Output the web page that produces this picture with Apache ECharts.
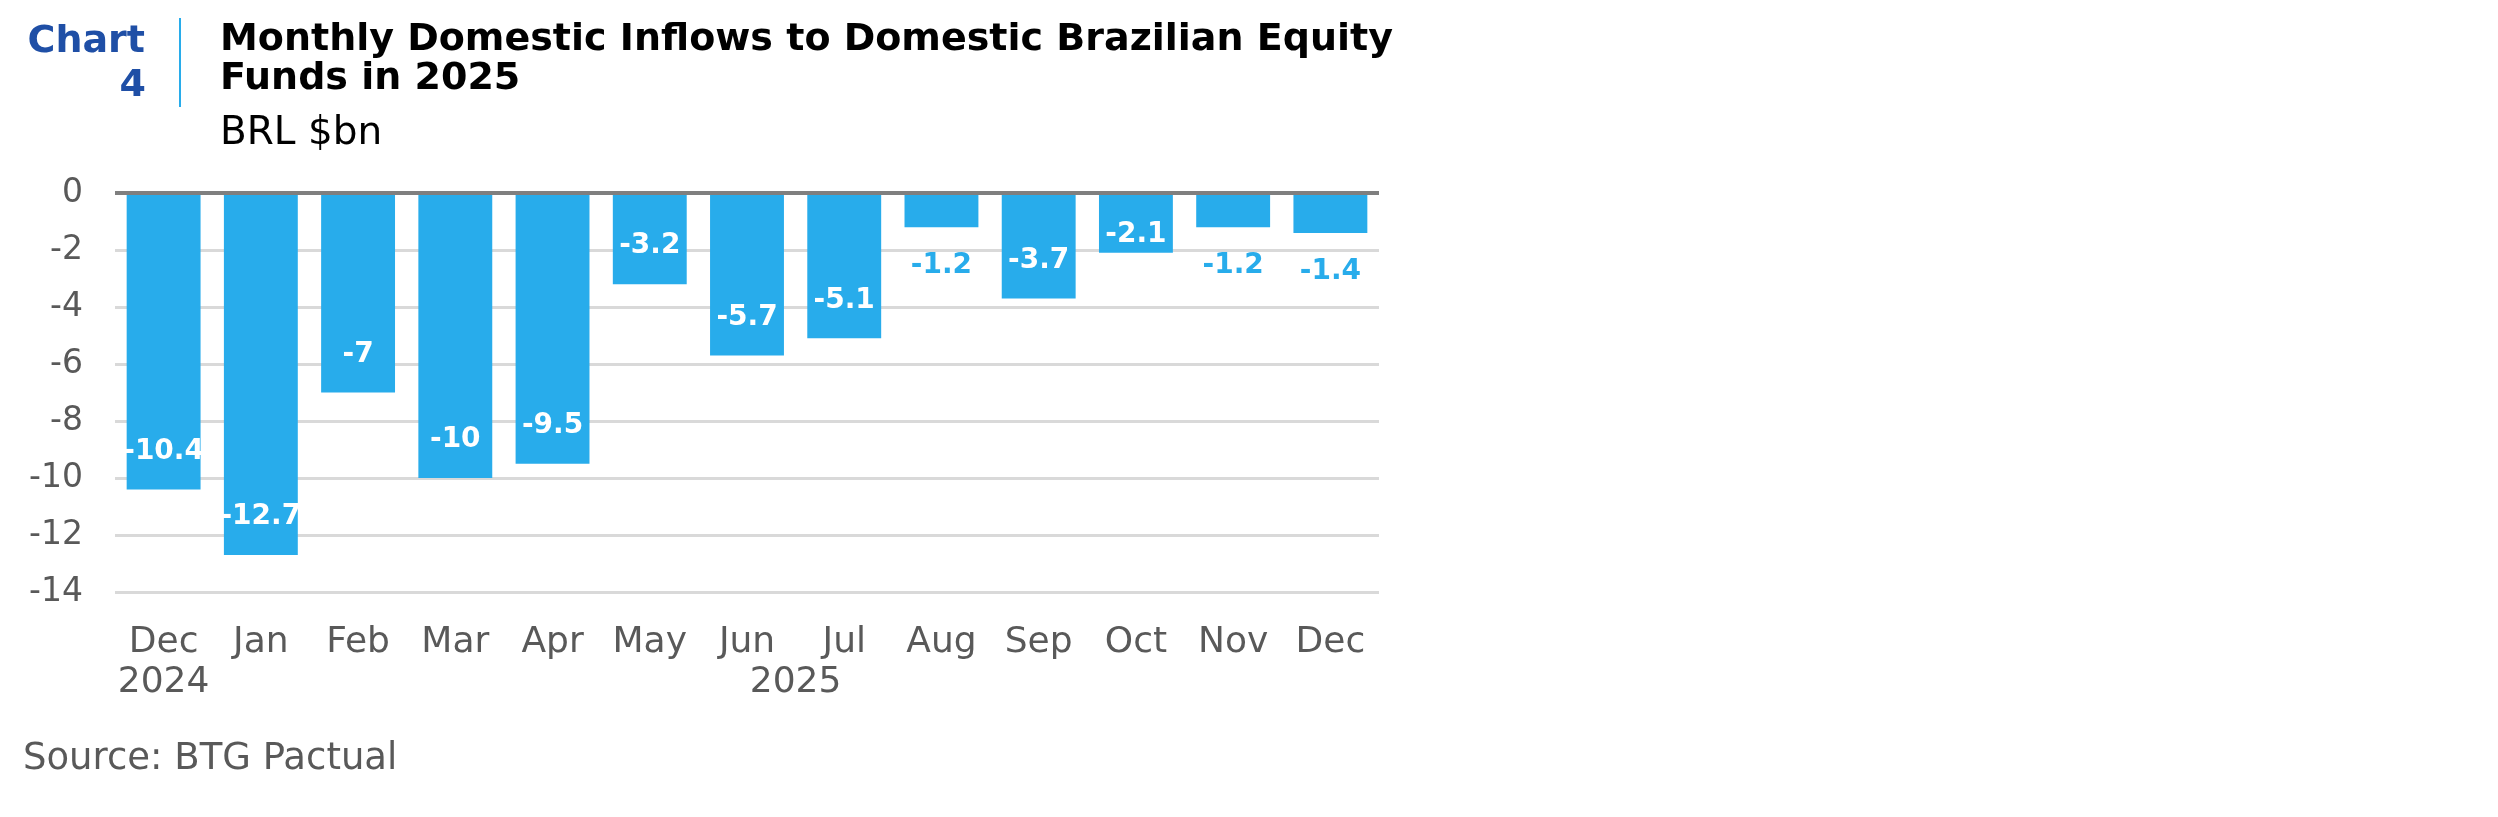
<!DOCTYPE html>
<html>
<head>
<meta charset="utf-8">
<script src="https://cdn.jsdelivr.net/npm/echarts@6/dist/echarts.min.js"></script>
<style>
  html, body { margin: 0; padding: 0; background: #ffffff; }
  #chart { width: 2498px; height: 817px; }
</style>
</head>
<body>
<div id="chart"></div>
<script>
// ---- data ----
const categories = ['Dec', 'Jan', 'Feb', 'Mar', 'Apr', 'May', 'Jun', 'Jul', 'Aug', 'Sep', 'Oct', 'Nov', 'Dec'];
const values = [-10.4, -12.7, -7, -10, -9.5, -3.2, -5.7, -5.1, -1.2, -3.7, -2.1, -1.2, -1.4];
const yearLabels = ['2024', '2025'];
const yearFirstIndex = [0, 1];
const yearLastIndex = [0, 12];
const yMin = -14, yMax = 0, yStep = 2;

const titleText = 'Monthly Domestic Inflows to Domestic Brazilian Equity\nFunds in 2025';
const unitText = 'BRL $bn';
const sourceText = 'Source: BTG Pactual';

// ---- styles ----
const FONT = 'DejaVu Sans';
const barColor = '#28ACEB';
const navy = '#1F4FA6';
const axisGrey = '#595959';

const yearCenters = yearFirstIndex.map((s, i) => (s + yearLastIndex[i] + 1) / 2);

function labelFor(v) {
  const a = Math.abs(v);
  if (a < 2) return { position: 'bottom', distance: 25, color: barColor };
  if (a < 3) return { position: 'insideBottom', distance: 4, color: '#ffffff' };
  return { position: 'insideBottom', distance: 24, color: '#ffffff' };
}

const chart = echarts.init(document.getElementById('chart'), null, { renderer: 'canvas' });
chart.setOption({
  animation: false,
  backgroundColor: '#ffffff',
  title: [
    { text: 'Chart', left: 140, top: 18, textAlign: 'right',
      textStyle: { fontFamily: FONT, fontSize: 38, fontWeight: 'bold', color: navy } },
    { text: '4', left: 141, top: 62, textAlign: 'right',
      textStyle: { fontFamily: FONT, fontSize: 38, fontWeight: 'bold', color: navy } },
    { text: titleText, left: 215, top: 16,
      textStyle: { fontFamily: FONT, fontSize: 38, fontWeight: 'bold', color: '#000000', lineHeight: 39 } },
    { text: unitText, left: 215, top: 109,
      textStyle: { fontFamily: FONT, fontSize: 39, fontWeight: 'normal', color: '#000000' } },
    { text: sourceText, left: 18, top: 736,
      textStyle: { fontFamily: FONT, fontSize: 37, fontWeight: 'normal', color: axisGrey } }
  ],
  graphic: [
    { type: 'line', shape: { x1: 180, y1: 18, x2: 180, y2: 107 },
      style: { stroke: barColor, lineWidth: 2 } }
  ],
  grid: { left: 115, right: 1119, top: 193, bottom: 225, containLabel: false },
  xAxis: [
    {
      type: 'category', data: categories, position: 'bottom',
      axisLine: { show: false }, axisTick: { show: false },
      axisLabel: { interval: 0, margin: 33, color: axisGrey, fontFamily: FONT, fontSize: 36 }
    },
    {
      type: 'value', min: 0, max: categories.length, position: 'bottom',
      axisLine: { show: false }, axisTick: { show: false }, splitLine: { show: false },
      axisLabel: {
        customValues: yearCenters, margin: 73, color: axisGrey, fontFamily: FONT, fontSize: 36,
        formatter: (val) => { const i = yearCenters.indexOf(val); return i >= 0 ? yearLabels[i] : ''; }
      }
    }
  ],
  yAxis: {
    type: 'value', min: yMin, max: yMax, interval: yStep,
    axisLine: { show: false }, axisTick: { show: false },
    axisLabel: { margin: 32, color: axisGrey, fontFamily: FONT, fontSize: 33 },
    splitLine: { show: true, lineStyle: { color: '#D9D9D9', width: 3 } }
  },
  series: [
    {
      type: 'bar', xAxisIndex: 0, barCategoryGap: '24%',
      itemStyle: { color: barColor },
      label: { show: true, fontFamily: FONT, fontSize: 28, fontWeight: 'bold', formatter: (p) => String(p.value) },
      data: values.map(v => ({ value: v, label: labelFor(v) })),
      markLine: {
        silent: true, symbol: 'none', label: { show: false },
        lineStyle: { color: '#7F7F7F', width: 4, type: 'solid' },
        data: [{ yAxis: 0 }]
      },
      z: 2
    }
  ]
});
</script>
</body>
</html>
